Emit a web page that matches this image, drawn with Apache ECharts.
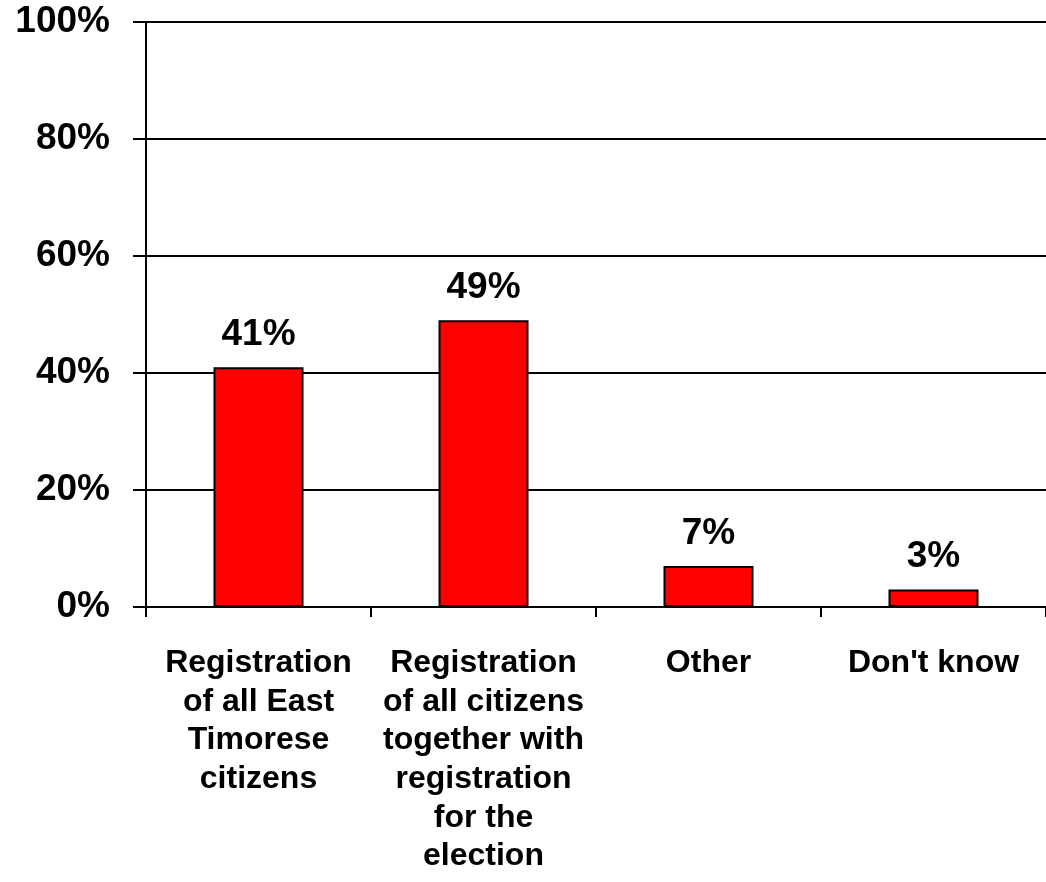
<!DOCTYPE html>
<html>
<head>
<meta charset="utf-8">
<script src="https://cdn.jsdelivr.net/npm/echarts@6/dist/echarts.min.js"></script>
<style>
  html, body { margin: 0; padding: 0; background: #fff; }
  #chart { width: 1046px; height: 882px; }
</style>
</head>
<body>
<div id="chart"></div>
<script>
const categories = [
  'Registration\nof all East\nTimorese\ncitizens',
  'Registration\nof all citizens\ntogether with\nregistration\nfor the\nelection',
  'Other',
  "Don't know",
]
const values = [41, 49, 7, 3]
const yTicks = [0, 20, 40, 60, 80, 100]

const chart = echarts.init(document.getElementById('chart'))

chart.setOption({
  backgroundColor: '#ffffff',
  animation: false,
  textStyle: { fontFamily: 'Arial, "Liberation Sans", sans-serif' },
  grid: {
    left: 146,
    top: 22,
    width: 901,
    height: 585,
  },
  xAxis: {
    type: 'category',
    data: categories,
    axisLine: { lineStyle: { color: '#000', width: 2 } },
    axisTick: { show: true, length: 10, lineStyle: { color: '#000', width: 2 } },
    axisLabel: {
      interval: 0,
      margin: 37,
      color: '#000',
      fontSize: 32,
      fontWeight: 'bold',
      lineHeight: 38.6,
      align: 'center',
    },
  },
  yAxis: {
    type: 'value',
    min: yTicks[0],
    max: yTicks[yTicks.length - 1],
    interval: 20,
    axisLine: { show: true, lineStyle: { color: '#000', width: 2 } },
    axisTick: { show: true, length: 13, lineStyle: { color: '#000', width: 2 } },
    splitLine: { lineStyle: { color: '#000', width: 2 } },
    axisLabel: {
      margin: 36,
      color: '#000',
      fontSize: 37,
      fontWeight: 'bold',
      padding: [6, 0, 0, 0],
      formatter: '{value}%',
    },
  },
  series: [
    {
      type: 'bar',
      data: values,
      barWidth: 90,
      itemStyle: {
        color: '#ff0000',
        borderColor: '#000',
        borderWidth: 2,
      },
      label: {
        show: true,
        position: 'top',
        distance: 14,
        color: '#000',
        fontSize: 37,
        fontWeight: 'bold',
        formatter: '{c}%',
      },
    },
  ],
})
</script>
</body>
</html>
